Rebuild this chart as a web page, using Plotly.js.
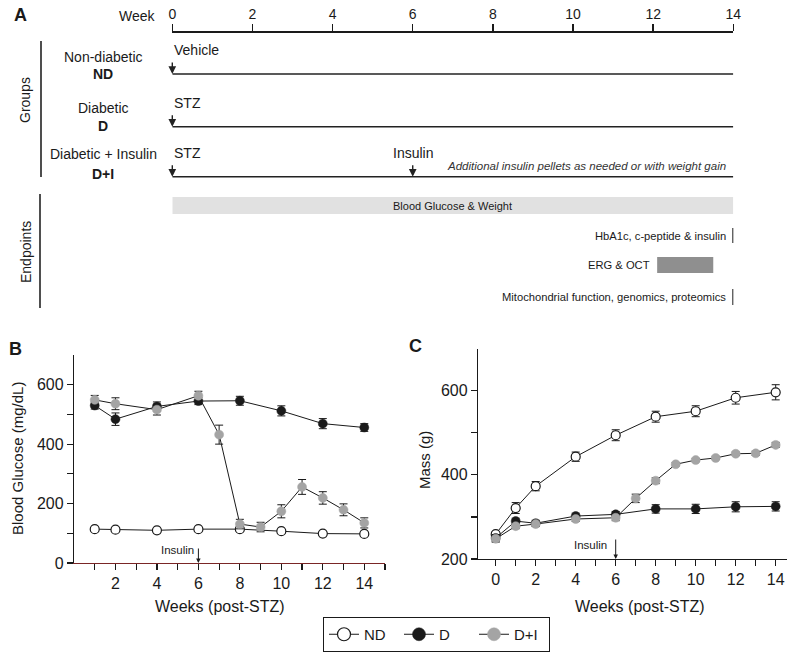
<!DOCTYPE html>
<html><head><meta charset="utf-8">
<script src="https://cdn.plot.ly/plotly-3.0.1.min.js"></script>
<style>html,body{margin:0;padding:0;background:#fff}</style>
</head><body><div id="chart" style="width:800px;height:662px"></div>
<script>
// ================= DATA =================
// Panel A: study design
const timelineWeeks = [0, 2, 4, 6, 8, 10, 12, 14];
const groupNames = ['Non-diabetic', 'Diabetic', 'Diabetic + Insulin'];
const groupCodes = ['ND', 'D', 'D+I'];
const groupTreatments = ['Vehicle', 'STZ', 'STZ'];
const groupStartWeek = [0, 0, 0];
const groupEndWeek = [14, 14, 14];
const insulinWeek = 6;
const insulinNote = 'Additional insulin pellets as needed or with weight gain';
const endpointNames = ['Blood Glucose & Weight', 'HbA1c, c-peptide & insulin', 'ERG & OCT', 'Mitochondrial function, genomics, proteomics'];
const endpointStart = [0, 14, 12.1, 14];
const endpointEnd = [14, 14, 13.5, 14];

// Panel B: blood glucose (mg/dL)
const glucoseWeeksND = [1, 2, 4, 6, 8, 10, 12, 14];
const glucoseND = [114, 112, 110, 114, 114, 107, 99, 98];
const glucoseNDErr = [5, 5, 4, 4, 5, 5, 5, 5];
const glucoseWeeksD = [1, 2, 4, 6, 8, 10, 12, 14];
const glucoseD = [530, 484, 527, 545, 546, 512, 469, 456];
const glucoseDErr = [12, 21, 15, 12, 15, 17, 17, 13];
const glucoseWeeksDI = [1, 2, 4, 6, 7, 8, 9, 10, 11, 12, 13, 14];
const glucoseDI = [549, 536, 516, 563, 432, 131, 121, 174, 256, 219, 179, 135];
const glucoseDIErr = [15, 20, 18, 15, 32, 16, 16, 22, 25, 21, 20, 17];

// Panel C: body mass (g)
const massWeeksND = [0, 1, 2, 4, 6, 8, 10, 12, 14];
const massND = [259, 321, 373, 443, 494, 538, 551, 583, 596];
const massNDErr = [6, 13, 11, 11, 13, 13, 13, 15, 18];
const massWeeksD = [0, 1, 2, 4, 6, 8, 10, 12, 14];
const massD = [250, 290, 285, 302, 306, 319, 319, 324, 325];
const massDErr = [8, 7, 7, 7, 7, 10, 11, 12, 11];
const massWeeksDI = [0, 1, 2, 4, 6, 7, 8, 9, 10, 11, 12, 13, 14];
const massDI = [248, 278, 283, 295, 298, 344, 386, 425, 435, 440, 450, 451, 471];
const massDIErr = [8, 6, 6, 6, 7, 10, 7, 4, 4, 4, 4, 5, 6];

// Tick labels
const weekTicksB = [1, 2, 3, 4, 5, 6, 7, 8, 9, 10, 11, 12, 13, 14, 15];
const weekTicksC = [0, 1, 2, 3, 4, 5, 6, 7, 8, 9, 10, 11, 12, 13, 14];
const glucoseTicks = [0, 100, 200, 300, 400, 500, 600];
const massTicks = [200, 300, 400, 500, 600];
const seriesNames = ['ND', 'D', 'D+I'];

// ================= LAYOUT HELPERS =================
const W = 800, H = 662;
const FONT = 'Liberation Sans, Arial, Helvetica, sans-serif';
const INK = '#1a1a1a';
const GRAY = '#a4a4a4';
const px = p => p / W;
const py = p => 1 - p / H;
const evenLabel = v => (v % 2 === 0 ? String(v) : '');
const every200 = v => (v % 200 === 0 ? String(v) : '');

const styles = [
  {marker: {symbol: 'circle', size: 9, color: '#ffffff', line: {color: INK, width: 1.2}}},
  {marker: {symbol: 'circle', size: 9, color: INK, line: {color: INK, width: 0.5}}},
  {marker: {symbol: 'circle', size: 9, color: GRAY, line: {color: GRAY, width: 0.5}}}
];

function series(x, y, err, idx, xa, ya) {
  return {
    x: x, y: y, xaxis: xa, yaxis: ya, type: 'scatter', mode: 'lines+markers',
    name: seriesNames[idx], showlegend: false, hoverinfo: 'skip',
    line: {color: INK, width: 1},
    marker: styles[idx].marker,
    error_y: {type: 'data', array: err, visible: true, color: INK, thickness: 1, width: 4}
  };
}

const traces = [];
// Panel A group timelines
const rowY = [74, 126.7, 176.7];
groupNames.forEach((g, i) => {
  traces.push({
    x: [groupStartWeek[i], groupEndWeek[i]], y: [rowY[i], rowY[i]],
    xaxis: 'x3', yaxis: 'y3', type: 'scatter', mode: 'lines',
    line: {color: '#222', width: 1.6}, showlegend: false, hoverinfo: 'skip'
  });
});
// Panel B
traces.push(series(glucoseWeeksND, glucoseND, glucoseNDErr, 0, 'x', 'y'));
traces.push(series(glucoseWeeksD, glucoseD, glucoseDErr, 1, 'x', 'y'));
traces.push(series(glucoseWeeksDI, glucoseDI, glucoseDIErr, 2, 'x', 'y'));
// Panel C
traces.push(series(massWeeksND, massND, massNDErr, 0, 'x2', 'y2'));
traces.push(series(massWeeksD, massD, massDErr, 1, 'x2', 'y2'));
traces.push(series(massWeeksDI, massDI, massDIErr, 2, 'x2', 'y2'));
// Legend entries
seriesNames.forEach((n, i) => {
  traces.push({
    x: [null], y: [null], xaxis: 'x', yaxis: 'y', type: 'scatter', mode: 'lines+markers',
    name: n, showlegend: true, hoverinfo: 'skip',
    line: {color: INK, width: 1},
    marker: Object.assign({}, styles[i].marker, {size: 13})
  });
});

// ================= ANNOTATIONS & SHAPES =================
const ann = [];
const shapes = [];
const txt = (text, x, y, opts) => Object.assign({
  text: text, x: x, y: y, xref: 'paper', yref: 'paper', showarrow: false,
  xanchor: 'center', yanchor: 'middle', font: {family: FONT, size: 14, color: INK}
}, opts || {});

// Panel letters
ann.push(txt('<b>A</b>', px(20), py(15), {font: {family: FONT, size: 18, color: INK}}));
ann.push(txt('<b>B</b>', px(15), py(349), {font: {family: FONT, size: 18, color: INK}}));
ann.push(txt('<b>C</b>', px(415), py(346), {font: {family: FONT, size: 18, color: INK}}));

// Panel A
ann.push(txt('Week', px(158), py(16), {xanchor: 'right'}));
ann.push(txt('Groups', px(25), py(100), {textangle: -90}));
ann.push(txt('Endpoints', px(26), py(252), {textangle: -90}));
shapes.push({type: 'line', xref: 'paper', yref: 'paper', x0: px(41), x1: px(41), y0: py(41), y1: py(177), line: {color: '#222', width: 1.6}});
shapes.push({type: 'line', xref: 'paper', yref: 'paper', x0: px(40), x1: px(40), y0: py(194), y1: py(308), line: {color: '#222', width: 1.6}});

const nameY = [56.7, 108, 154.3];
const codeY = [74, 125.7, 173.8];
groupNames.forEach((g, i) => {
  ann.push(txt(g, px(103.5), py(nameY[i])));
  ann.push(txt('<b>' + groupCodes[i] + '</b>', px(103.5), py(codeY[i])));
  ann.push({text: groupTreatments[i], x: groupStartWeek[i], y: rowY[i] - 24, xref: 'x3', yref: 'y3',
    showarrow: false, xanchor: 'left', yanchor: 'middle', font: {family: FONT, size: 14, color: INK}});
  ann.push({text: '', x: groupStartWeek[i], y: rowY[i], xref: 'x3', yref: 'y3', showarrow: true,
    ax: 0, ay: -13, arrowhead: 2, arrowsize: 1.1, arrowwidth: 1.4, arrowcolor: '#222'});
});
// insulin for D+I
ann.push({text: 'Insulin', x: insulinWeek, y: rowY[2] - 24, xref: 'x3', yref: 'y3', showarrow: false,
  xanchor: 'center', yanchor: 'middle', font: {family: FONT, size: 14, color: INK}});
ann.push({text: '', x: insulinWeek, y: rowY[2], xref: 'x3', yref: 'y3', showarrow: true,
  ax: 0, ay: -13, arrowhead: 2, arrowsize: 1.1, arrowwidth: 1.4, arrowcolor: '#222'});
ann.push({text: '<i>' + insulinNote + '</i>', x: groupEndWeek[2], y: 165.7, xref: 'x3', yref: 'y3',
  showarrow: false, xanchor: 'right', xshift: -5, yanchor: 'middle', font: {family: FONT, size: 11.5, color: '#333'}});

// Endpoints
const endY = [205.5, 235.5, 265, 297];
const endHalf = [8.5, 7.5, 8, 8];
endpointNames.forEach((n, i) => {
  const s = endpointStart[i], e = endpointEnd[i];
  if (e > s) {
    shapes.push({type: 'rect', xref: 'x3', yref: 'y3', x0: s, x1: e, y0: endY[i] - endHalf[i], y1: endY[i] + endHalf[i],
      fillcolor: (e - s) > 7 ? '#e1e1e1' : '#8f8f8f', line: {width: 0}, layer: 'below'});
  } else {
    shapes.push({type: 'line', xref: 'x3', yref: 'y3', x0: s, x1: e, y0: endY[i] - endHalf[i], y1: endY[i] + endHalf[i],
      line: {color: '#222', width: 2}});
  }
  if (e - s > 7) {
    ann.push({text: n, x: (s + e) / 2, y: endY[i], xref: 'x3', yref: 'y3', showarrow: false,
      xanchor: 'center', yanchor: 'middle', font: {family: FONT, size: 11, color: INK}});
  } else {
    ann.push({text: n, x: s, y: endY[i], xref: 'x3', yref: 'y3', showarrow: false, xshift: -5,
      xanchor: 'right', yanchor: 'middle', font: {family: FONT, size: 11.2, color: INK}});
  }
});

// Panel B / C insulin markers
ann.push({text: 'Insulin', x: insulinWeek, y: 0, xref: 'x', yref: 'y', showarrow: false,
  xanchor: 'right', xshift: -2, yanchor: 'middle', yshift: 13, font: {family: FONT, size: 11.5, color: INK}});
ann.push({text: '', x: insulinWeek, y: 0, xref: 'x', yref: 'y', showarrow: true,
  ax: 0, ay: -16, arrowhead: 2, arrowsize: 0.9, arrowwidth: 1, arrowcolor: INK});
ann.push({text: 'Insulin', x: insulinWeek, y: 200, xref: 'x2', yref: 'y2', showarrow: false,
  xanchor: 'right', xshift: -7, yanchor: 'middle', yshift: 14, font: {family: FONT, size: 11.5, color: INK}});
ann.push({text: '', x: insulinWeek, y: 200, xref: 'x2', yref: 'y2', showarrow: true,
  ax: 0, ay: -21, arrowhead: 2, arrowsize: 0.9, arrowwidth: 1, arrowcolor: INK});

// Axis titles (B, C)
ann.push(txt('Blood Glucose (mg/dL)', px(17), py(459), {textangle: -90, font: {family: FONT, size: 15, color: INK}}));
ann.push(txt('Weeks (post-STZ)', px(220), py(606), {font: {family: FONT, size: 16, color: INK}}));
ann.push(txt('Mass (g)', px(424), py(460), {textangle: -90, font: {family: FONT, size: 15, color: INK}}));
ann.push(txt('Weeks (post-STZ)', px(640), py(606), {font: {family: FONT, size: 16, color: INK}}));

const axisCommon = {
  showline: true, linecolor: INK, linewidth: 1.2, ticks: 'outside', ticklen: 6, tickwidth: 1.2,
  tickcolor: INK, showgrid: false, zeroline: false, fixedrange: true,
  tickfont: {family: FONT, size: 16, color: INK}
};

const layout = {
  width: W, height: H, margin: {l: 0, r: 0, t: 0, b: 0},
  paper_bgcolor: '#ffffff', plot_bgcolor: 'rgba(0,0,0,0)',
  font: {family: FONT, color: INK},
  hovermode: false,
  xaxis: Object.assign({}, axisCommon, {domain: [px(74), px(385)], range: [0, 15], anchor: 'y',
    linecolor: '#7a2626', tickvals: weekTicksB, ticktext: weekTicksB.map(evenLabel)}),
  yaxis: Object.assign({}, axisCommon, {domain: [py(563), py(355)], range: [0, 700], anchor: 'x',
    tickvals: glucoseTicks, ticktext: glucoseTicks.map(every200)}),
  xaxis2: Object.assign({}, axisCommon, {domain: [px(478), px(786.7)], range: [-0.885, 14.55], anchor: 'y2',
    tickvals: weekTicksC, ticktext: weekTicksC.map(evenLabel)}),
  yaxis2: Object.assign({}, axisCommon, {domain: [py(559), py(348.5)], range: [200, 700], anchor: 'x2',
    tickvals: massTicks, ticktext: massTicks.map(every200)}),
  xaxis3: Object.assign({}, axisCommon, {domain: [px(172.3), px(733.3)], range: [0, 14], anchor: 'y3', side: 'top',
    linewidth: 1.6, tickwidth: 1.4, ticklen: 7, tickvals: timelineWeeks, ticktext: timelineWeeks.map(String),
    tickfont: {family: FONT, size: 14, color: INK}}),
  yaxis3: {domain: [py(317.8), py(32.7)], range: [317.8, 32.7], anchor: 'x3', visible: false, fixedrange: true},
  legend: {orientation: 'h', x: px(323), y: py(617), xanchor: 'left', yanchor: 'top',
    bordercolor: INK, borderwidth: 1, bgcolor: '#ffffff', itemwidth: 30, entrywidth: 30, entrywidthmode: 'pixels',
    font: {family: FONT, size: 15, color: INK}, traceorder: 'normal'},
  annotations: ann,
  shapes: shapes
};

Plotly.newPlot('chart', traces, layout, {staticPlot: true, displayModeBar: false});
</script>
</body></html>
